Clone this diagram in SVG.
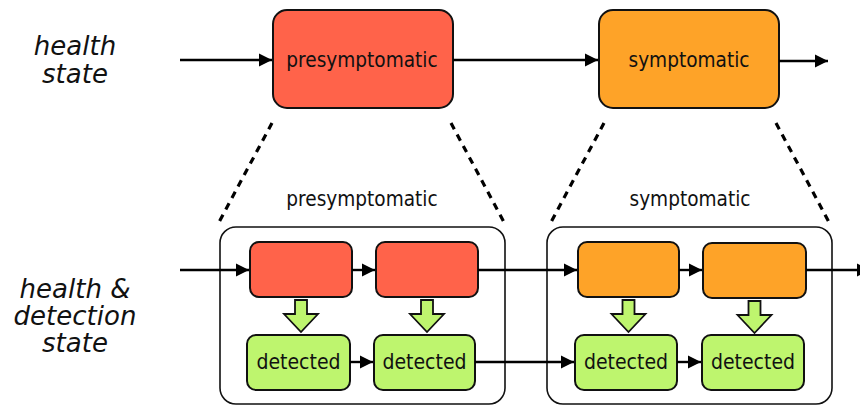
<svg xmlns="http://www.w3.org/2000/svg" width="860" height="406" viewBox="0 0 860 406">
<defs>
<style>
.lbl{font-family:"DejaVu Sans",sans-serif;font-style:oblique;font-size:26px;fill:#111;text-anchor:middle}
.t{font-family:"DejaVu Sans Condensed","DejaVu Sans",sans-serif;font-stretch:condensed;font-size:20.6px;fill:#111;text-anchor:middle}
.d{font-family:"DejaVu Sans Condensed","DejaVu Sans",sans-serif;font-stretch:condensed;font-size:21px;fill:#111;text-anchor:middle}
.red{fill:#ff634a;stroke:#111;stroke-width:2}
.org{fill:#fea328;stroke:#111;stroke-width:2}
.grn{fill:#bef56e;stroke:#111;stroke-width:2}
.cont{fill:none;stroke:#111;stroke-width:1.6}
.ln{fill:none;stroke:#000;stroke-width:2.4}
.dash{fill:none;stroke:#000;stroke-width:3.2;stroke-dasharray:7 6}
.blk{fill:#bef56e;stroke:#111;stroke-width:1.8;stroke-linejoin:miter}
</style>
<marker id="ah" viewBox="0 0 10 10" refX="10" refY="5" markerWidth="5.6" markerHeight="5.6" orient="auto" markerUnits="strokeWidth">
<path d="M0,0 L10,5 L0,10 z" fill="#000"/>
</marker>
</defs>

<text class="lbl" x="75" y="55">health</text>
<text class="lbl" x="75" y="83">state</text>
<text class="lbl" x="75" y="298">health &amp;</text>
<text class="lbl" x="75" y="325">detection</text>
<text class="lbl" x="75" y="352">state</text>

<g id="top-pre"><rect class="red" x="273" y="10" width="180" height="98" rx="14"/><text class="t" x="362" y="66.5">presymptomatic</text></g>
<g id="top-sym"><rect class="org" x="599" y="10" width="180" height="98" rx="14"/><text class="t" x="689" y="66.5">symptomatic</text></g>

<g id="cont-pre"><rect class="cont" x="220" y="227" width="285" height="177" rx="16"/><text class="t" x="362" y="206">presymptomatic</text></g>
<g id="cont-sym"><rect class="cont" x="547" y="227" width="285" height="177" rx="16"/><text class="t" x="690" y="206">symptomatic</text></g>

<g id="p1"><rect class="red" x="250" y="242" width="102" height="55" rx="9"/></g>
<g id="p2"><rect class="red" x="376" y="242" width="102" height="55" rx="9"/></g>
<g id="s1"><rect class="org" x="578" y="242" width="101" height="55" rx="9"/></g>
<g id="s2"><rect class="org" x="703" y="243" width="103" height="55" rx="9"/></g>

<g id="pd1"><rect class="grn" x="247" y="335" width="103" height="55" rx="9"/><text class="d" x="298.5" y="368.5">detected</text></g>
<g id="pd2"><rect class="grn" x="374" y="335" width="101" height="55" rx="9"/><text class="d" x="424.5" y="368.5">detected</text></g>
<g id="sd1"><rect class="grn" x="575" y="335" width="102" height="55" rx="9"/><text class="d" x="626" y="368.5">detected</text></g>
<g id="sd2"><rect class="grn" x="702" y="335" width="102" height="55" rx="9"/><text class="d" x="753" y="368.5">detected</text></g>

<g id="connectors">
<line class="ln" x1="180" y1="60" x2="272" y2="60" marker-end="url(#ah)"/>
<line class="ln" x1="453" y1="60" x2="598" y2="60" marker-end="url(#ah)"/>
<line class="ln" x1="779" y1="61" x2="828" y2="61" marker-end="url(#ah)"/>

<line class="dash" x1="272" y1="123" x2="218" y2="224"/>
<line class="dash" x1="451" y1="123" x2="505" y2="224"/>
<line class="dash" x1="604" y1="123" x2="550" y2="224"/>
<line class="dash" x1="776" y1="123" x2="830" y2="224"/>

<line class="ln" x1="180" y1="270" x2="249" y2="270" marker-end="url(#ah)"/>
<line class="ln" x1="352" y1="270" x2="375" y2="270" marker-end="url(#ah)"/>
<line class="ln" x1="478" y1="270" x2="577" y2="270" marker-end="url(#ah)"/>
<line class="ln" x1="679" y1="270" x2="702" y2="270" marker-end="url(#ah)"/>
<line class="ln" x1="806" y1="270" x2="870" y2="270" marker-end="url(#ah)"/>

<line class="ln" x1="350" y1="362" x2="373" y2="362" marker-end="url(#ah)"/>
<line class="ln" x1="475" y1="362" x2="574" y2="362" marker-end="url(#ah)"/>
<line class="ln" x1="677" y1="362" x2="701" y2="362" marker-end="url(#ah)"/>

<path class="blk" d="M295,300 h12 v14 h11 l-17,18 l-17,-18 h11 z"/>
<path class="blk" d="M421,300 h12 v14 h11 l-17,18 l-17,-18 h11 z"/>
<path class="blk" d="M622.5,300 h12 v14 h11 l-17,18 l-17,-18 h11 z"/>
<path class="blk" d="M748.5,301 h12 v14 h11 l-17,18 l-17,-18 h11 z"/>
</g>
</svg>
